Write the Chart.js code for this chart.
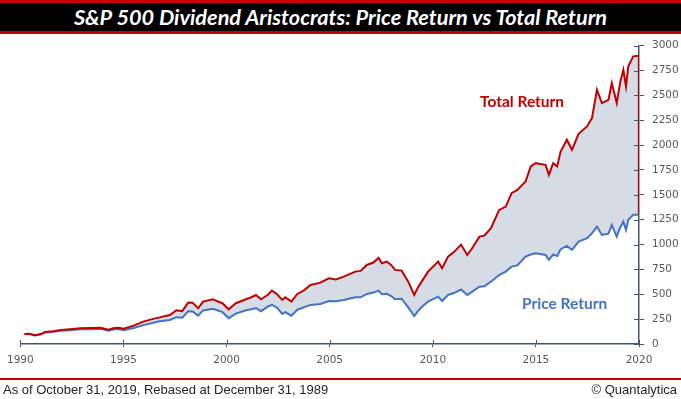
<!DOCTYPE html>
<html>
<head>
<meta charset="utf-8">
<script src="https://cdn.jsdelivr.net/npm/chart.js@4.4.1/dist/chart.umd.min.js"></script>
<style>
  html, body { margin: 0; padding: 0; background: #fff; }
  #wrap { position: relative; width: 681px; height: 399px; overflow: hidden; }
  #chart { position: absolute; left: 0; top: 0; }
  .title {
    position: absolute; left: 0; top: 0; width: 681px; height: 28px;
    background: #000; border-top: 3px solid #C00000; border-bottom: 3px solid #C00000;
    color: #fff; font: italic bold 21.7px Lato, sans-serif; line-height: 28px; text-align: center;
  }
  .rule { position: absolute; left: 0; top: 378px; width: 681px; height: 2px; background: #C00000; }
  .foot { position: absolute; top: 382px; font: 13px "Liberation Sans", Arial, sans-serif; line-height: 15px; color: #262626; }
  .lbl { position: absolute; font: bold 15.5px Lato, sans-serif; line-height: 18px; white-space: nowrap; }
</style>
</head>
<body>
<div id="wrap">
  <canvas id="chart" width="681" height="399"></canvas>
  <div class="title">S&amp;P 500 Dividend Aristocrats: Price Return vs Total Return</div>
  <div class="lbl" style="left:480px; top:92px; color:#C00000;">Total Return</div>
  <div class="lbl" style="left:522px; top:294px; color:#4472C4;">Price Return</div>
  <div class="rule"></div>
  <div class="foot" style="left:3px;">As of October 31, 2019, Rebased at December 31, 1989</div>
  <div class="foot" style="right:4px;">&copy; Quantalytica</div>
</div>
<script>
// values (rebased to 100)
var years = [
  1990.20, 1990.45, 1990.70, 1991.00, 1991.20, 1991.60, 1991.96, 1992.40, 1992.90, 1993.40,
  1993.88, 1994.28, 1994.50, 1994.76, 1995.00, 1995.50, 1995.96, 1996.40, 1996.76, 1997.25,
  1997.57, 1997.85, 1998.14, 1998.35, 1998.62, 1998.86, 1999.34, 1999.55, 1999.80, 2000.10,
  2000.45, 2000.94, 2001.20, 2001.43, 2001.67, 2001.99, 2002.20, 2002.45, 2002.70, 2002.85,
  2003.14, 2003.43, 2003.75, 2004.07, 2004.55, 2004.96, 2005.30, 2005.68, 2006.24, 2006.50,
  2006.80, 2007.12, 2007.37, 2007.53, 2007.77, 2008.00, 2008.17, 2008.49, 2008.81, 2009.10,
  2009.30, 2009.50, 2009.77, 2010.26, 2010.45, 2010.74, 2011.05, 2011.37, 2011.67, 2011.90,
  2012.26, 2012.50, 2012.82, 2013.22, 2013.54, 2013.82, 2014.10, 2014.50, 2014.75, 2014.99,
  2015.20, 2015.47, 2015.63, 2015.84, 2016.03, 2016.20, 2016.50, 2016.75, 2017.07, 2017.48,
  2017.72, 2017.96, 2018.20, 2018.52, 2018.68, 2018.92, 2019.08, 2019.24, 2019.37, 2019.48,
  2019.72, 2019.98
];
var totalReturn = [
  100, 102, 88, 100, 121, 128, 141, 148, 158, 160,
  164, 143, 158, 164, 154, 185, 225, 250, 268, 292,
  340, 330, 416, 414, 359, 426, 450, 430, 410, 349,
  410, 450, 470, 493, 450, 493, 537, 500, 443, 470,
  426, 503, 540, 594, 617, 661, 650, 678, 728, 735,
  795, 819, 866, 812, 829, 790, 745, 738, 627, 493,
  577, 640, 728, 829, 762, 879, 929, 1000, 896, 960,
  1080, 1090, 1165, 1349, 1382, 1517, 1550, 1634, 1785, 1819,
  1810, 1802, 1701, 1819, 1785, 1936, 2054, 1953, 2114, 2188,
  2272, 2557, 2423, 2456, 2624, 2423, 2624, 2758, 2590, 2792,
  2893, 2900
];
var priceReturn = [
  100, 101, 86, 97, 116, 122, 133, 139, 148, 149,
  152, 134, 146, 150, 138, 160, 190, 212, 228, 242,
  270, 265, 330, 328, 285, 338, 355, 340, 320, 260,
  305, 340, 350, 362, 330, 375, 393, 365, 302, 320,
  285, 345, 370, 393, 403, 433, 430, 443, 470, 470,
  503, 517, 537, 500, 505, 480, 450, 455, 369, 282,
  335, 380, 426, 476, 433, 493, 515, 548, 493, 525,
  577, 580, 627, 694, 728, 778, 790, 879, 900, 913,
  905, 895, 846, 900, 885, 953, 987, 946, 1030, 1064,
  1114, 1181, 1097, 1110, 1198, 1080, 1170, 1231, 1148, 1250,
  1299, 1300
];
var xTicks = [1990, 2020, 5];
var yTicks = [0, 3000, 250];

var axisColor = '#44546A';
var labelColor = '#595959';

function pts(vals) {
  return vals.map(function (v, i) { return { x: years[i], y: v }; });
}
var last = years.length - 1;

// little tick marks that poke into the plot as well
var crossTicks = {
  id: 'crossTicks',
  afterDraw: function (chart) {
    var ctx = chart.ctx, a = chart.chartArea, sx = chart.scales.x, sy = chart.scales.y;
    ctx.save();
    ctx.strokeStyle = axisColor;
    ctx.lineWidth = 1;
    ctx.beginPath();
    sx.ticks.forEach(function (t) {
      var px = Math.round(sx.getPixelForValue(t.value)) + 0.5;
      ctx.moveTo(px, a.bottom - 4);
      ctx.lineTo(px, a.bottom);
    });
    sy.ticks.forEach(function (t) {
      var py = Math.round(sy.getPixelForValue(t.value)) + 0.5;
      ctx.moveTo(a.right - 5, py);
      ctx.lineTo(a.right, py);
    });
    ctx.stroke();
    ctx.restore();
  }
};

new Chart(document.getElementById('chart'), {
  type: 'line',
  data: {
    datasets: [
      {
        label: 'Total Return',
        data: pts(totalReturn),
        borderColor: '#C00000',
        backgroundColor: '#D6DCE5',
        borderWidth: 2,
        pointRadius: 0,
        fill: '+1',
        tension: 0
      },
      {
        label: 'Price Return',
        data: pts(priceReturn),
        borderColor: '#4472C4',
        borderWidth: 2,
        pointRadius: 0,
        fill: false,
        tension: 0
      },
      {
        label: 'edge',
        data: [{ x: years[last], y: totalReturn[last] }, { x: years[last], y: priceReturn[last] }],
        borderColor: '#C00000',
        borderWidth: 1.5,
        pointRadius: 0,
        fill: false
      }
    ]
  },
  options: {
    responsive: false,
    animation: false,
    layout: { padding: { left: 16.5, top: 45.7, right: 0, bottom: 25 } },
    plugins: {
      legend: { display: false },
      tooltip: { enabled: false },
      filler: { drawTime: 'beforeDatasetsDraw' }
    },
    scales: {
      x: {
        type: 'linear',
        min: xTicks[0], max: xTicks[1],
        afterFit: function (s) { s.height = 30; },
        grid: { drawOnChartArea: false, color: axisColor, tickLength: 3 },
        border: { color: axisColor, width: 1.5 },
        ticks: {
          stepSize: xTicks[2], padding: 7, maxRotation: 0,
          color: labelColor, font: { family: 'DejaVu Sans', size: 10.5 },
          callback: function (v) { return String(v); }
        }
      },
      y: {
        position: 'right',
        min: yTicks[0], max: yTicks[1],
        afterFit: function (s) { s.width = 42; },
        grid: { drawOnChartArea: false, color: axisColor, tickLength: 5 },
        border: { color: axisColor, width: 1.5 },
        ticks: {
          stepSize: yTicks[2], padding: 8,
          color: labelColor, font: { family: 'DejaVu Sans', size: 10.5 },
          callback: function (v) { return String(v); }
        }
      }
    }
  },
  plugins: [crossTicks]
});
</script>
</body>
</html>
